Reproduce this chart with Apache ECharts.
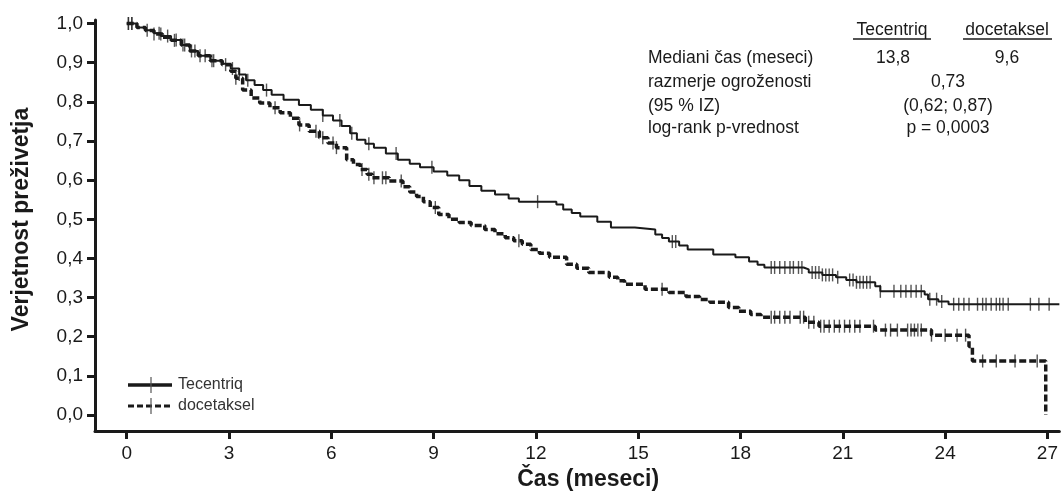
<!DOCTYPE html>
<html>
<head>
<meta charset="utf-8">
<script src="https://cdn.jsdelivr.net/npm/echarts@6/dist/echarts.min.js"></script>
<style>
  html, body { margin: 0; padding: 0; background: #fff; }
  #chart { width: 1061px; height: 496px; }
</style>
</head>
<body>
<div id="chart"></div>
<script>
// Kaplan-Meier step points (time in months, survival probability)
const tecTime = [0, 0.3, 0.55, 0.8, 1.0, 1.3, 1.6, 1.85, 2.1, 2.45, 2.8, 3.05, 3.3, 3.5, 3.75, 4.0, 4.25, 4.6, 5.05, 5.4, 5.75, 6.05, 6.3, 6.55, 6.75, 7.0, 7.25, 7.6, 7.95, 8.3, 8.6, 9.0, 9.4, 9.75, 10.05, 10.4, 10.8, 11.2, 11.5, 12.6, 12.8, 13.05, 13.3, 13.8, 14.2, 14.9, 15.5, 15.7, 15.9, 16.2, 16.45, 17.2, 17.85, 18.25, 18.5, 18.7, 19.85, 20.0, 20.4, 20.8, 21.1, 21.4, 21.95, 22.1, 23.4, 23.5, 23.8, 24.1, 27.35];
const tecSurv = [1.0, 0.99, 0.983, 0.975, 0.968, 0.958, 0.945, 0.93, 0.918, 0.905, 0.897, 0.885, 0.87, 0.855, 0.843, 0.83, 0.818, 0.805, 0.792, 0.78, 0.765, 0.752, 0.738, 0.72, 0.703, 0.693, 0.683, 0.668, 0.652, 0.642, 0.633, 0.622, 0.612, 0.6, 0.585, 0.573, 0.563, 0.553, 0.545, 0.538, 0.525, 0.516, 0.507, 0.494, 0.479, 0.474, 0.461, 0.452, 0.443, 0.433, 0.423, 0.41, 0.403, 0.392, 0.384, 0.377, 0.372, 0.364, 0.358, 0.352, 0.345, 0.339, 0.329, 0.316, 0.308, 0.296, 0.29, 0.283, 0.283];
const tecCensor = [0.05, 0.15, 0.6, 0.95, 1.2, 1.45, 1.65, 1.9, 2.15, 2.55, 3.1, 3.3, 3.55, 4.1, 5.75, 6.25, 6.6, 7.1, 7.9, 8.95, 12.05, 16.0, 16.1, 18.9, 19.0, 19.15, 19.3, 19.45, 19.55, 19.7, 19.8, 20.1, 20.2, 20.3, 20.4, 20.5, 20.6, 20.7, 20.85, 21.2, 21.3, 21.4, 21.5, 21.6, 21.7, 21.8, 22.1, 22.5, 22.7, 22.85, 23.0, 23.15, 23.3, 23.55, 23.75, 23.9, 24.25, 24.4, 24.55, 24.7, 24.95, 25.1, 25.2, 25.35, 25.5, 25.6, 25.7, 25.85, 26.5, 26.75, 27.05];

const docTime = [0, 0.3, 0.55, 0.8, 1.05, 1.3, 1.6, 1.85, 2.1, 2.45, 2.8, 3.05, 3.2, 3.4, 3.65, 3.9, 4.2, 4.5, 4.8, 5.05, 5.35, 5.65, 5.9, 6.15, 6.45, 6.65, 6.85, 7.05, 7.2, 7.7, 8.1, 8.3, 8.5, 8.7, 8.9, 9.15, 9.45, 9.75, 10.1, 10.5, 10.8, 11.1, 11.35, 11.6, 11.85, 12.1, 12.4, 12.9, 13.2, 13.55, 14.15, 14.4, 14.6, 15.2, 15.9, 16.4, 16.8, 17.1, 17.65, 17.95, 18.3, 18.6, 19.9, 20.3, 21.95, 23.6, 24.7, 24.8, 26.95];
const docSurv = [1.0, 0.99, 0.982, 0.973, 0.965, 0.957, 0.945, 0.93, 0.918, 0.905, 0.895, 0.878, 0.86, 0.83, 0.81, 0.797, 0.785, 0.772, 0.758, 0.741, 0.725, 0.708, 0.695, 0.683, 0.652, 0.64, 0.627, 0.615, 0.606, 0.598, 0.583, 0.57, 0.558, 0.545, 0.53, 0.512, 0.5, 0.492, 0.484, 0.474, 0.463, 0.453, 0.445, 0.436, 0.423, 0.413, 0.403, 0.385, 0.375, 0.364, 0.352, 0.343, 0.334, 0.321, 0.313, 0.303, 0.295, 0.288, 0.275, 0.265, 0.257, 0.25, 0.237, 0.227, 0.217, 0.204, 0.175, 0.138, 0.0];
const docCensor = [0.05, 0.15, 0.8, 1.0, 1.4, 1.7, 2.0, 2.3, 2.5, 2.9, 3.2, 4.35, 5.07, 5.55, 5.75, 6.05, 6.15, 6.9, 7.1, 7.25, 7.5, 7.6, 8.05, 9.05, 11.5, 15.7, 18.9, 19.0, 19.15, 19.3, 19.45, 19.75, 19.85, 20.0, 20.15, 20.35, 20.45, 20.6, 20.75, 20.9, 21.05, 21.2, 21.35, 21.5, 21.9, 22.25, 22.4, 22.6, 22.9, 23.0, 23.1, 23.2, 23.3, 23.6, 24.0, 24.35, 24.6, 25.1, 25.5, 26.05, 26.7];

const xTicks = [0, 3, 6, 9, 12, 15, 18, 21, 24, 27];
const yTicks = [0, 0.1, 0.2, 0.3, 0.4, 0.5, 0.6, 0.7, 0.8, 0.9, 1.0];

const zip = (a, b) => a.map((v, i) => [v, b[i]]);
// survival value of the step curve at time t (for placing censor marks)
const survAt = (times, surv, t) => {
    let s = surv[0];
    for (let i = 0; i < times.length; i++) {
        if (times[i] <= t) s = surv[i]; else break;
    }
    return s;
};

const ink = '#1a1a1a';
const font = 'Liberation Sans, Arial, sans-serif';
const tfont = '17.5px ' + font;
const myChart = echarts.init(document.getElementById('chart'));

const censorSeries = (times, surv, cens) => ({
    type: 'scatter',
    data: cens.map(t => [t, survAt(times, surv, t)]),
    symbol: 'rect',
    symbolSize: [1.4, 13],
    itemStyle: { color: '#2a2a2a' },
    silent: true,
    z: 3
});

const option = {
    animation: false,
    grid: { left: 95, right: 0, top: 20, bottom: 64 },
    xAxis: {
        type: 'value',
        min: -0.93,
        max: 27.35,
        name: 'Čas (meseci)',
        nameLocation: 'middle',
        nameGap: 36,
        nameTextStyle: { fontFamily: font, fontWeight: 'bold', fontSize: 23, color: ink, verticalAlign: 'top', padding: [0, 0, 0, 22] },
        axisLine: { onZero: false, lineStyle: { color: ink, width: 3 } },
        axisTick: { length: 8, lineStyle: { color: ink, width: 3 }, customValues: xTicks },
        axisLabel: { customValues: xTicks, fontFamily: font, fontSize: 19, color: ink, margin: 13 },
        splitLine: { show: false }
    },
    yAxis: {
        type: 'value',
        min: -0.041,
        max: 1.009,
        name: 'Verjetnost preživetja',
        nameLocation: 'middle',
        nameGap: 62,
        nameRotate: 90,
        nameTextStyle: { fontFamily: font, fontWeight: 'bold', fontSize: 23, color: ink, padding: [0, 0, 0, 12] },
        axisLine: { onZero: false, lineStyle: { color: ink, width: 3 } },
        axisTick: { length: 8, lineStyle: { color: ink, width: 3 }, customValues: yTicks },
        axisLabel: {
            customValues: yTicks,
            fontFamily: font, fontSize: 19, color: ink, margin: 12,
            formatter: v => v.toFixed(1).replace('.', ',')
        },
        splitLine: { show: false }
    },
    series: [
        {
            name: 'Tecentriq',
            type: 'line',
            step: 'end',
            showSymbol: false,
            data: zip(tecTime, tecSurv),
            lineStyle: { color: ink, width: 2 },
            z: 4
        },
        {
            name: 'docetaksel',
            type: 'line',
            step: 'end',
            showSymbol: false,
            data: zip(docTime, docSurv),
            lineStyle: { color: ink, width: 3.5, type: [7, 3] },
            z: 4
        },
        censorSeries(tecTime, tecSurv, tecCensor),
        censorSeries(docTime, docSurv, docCensor)
    ],
    graphic: [
        // legend
        { type: 'line', shape: { x1: 128, y1: 385, x2: 172, y2: 385 }, style: { stroke: ink, lineWidth: 3.5 } },
        { type: 'line', shape: { x1: 151, y1: 377, x2: 151, y2: 393 }, style: { stroke: '#555', lineWidth: 1.2 } },
        { type: 'text', x: 178, y: 385, style: { text: 'Tecentriq', font: '16px ' + font, fill: '#333', verticalAlign: 'middle' } },
        { type: 'line', shape: { x1: 128, y1: 406, x2: 172, y2: 406 }, style: { stroke: ink, lineWidth: 3, lineDash: [6, 3] } },
        { type: 'line', shape: { x1: 151, y1: 398, x2: 151, y2: 414 }, style: { stroke: '#555', lineWidth: 1.2 } },
        { type: 'text', x: 178, y: 406, style: { text: 'docetaksel', font: '16px ' + font, fill: '#333', verticalAlign: 'middle' } },
        // summary table
        { type: 'text', x: 892, y: 30, style: { text: 'Tecentriq', font: tfont, fill: ink, align: 'center', verticalAlign: 'middle' } },
        { type: 'line', shape: { x1: 853, y1: 39, x2: 931, y2: 39 }, style: { stroke: ink, lineWidth: 1.3 } },
        { type: 'text', x: 1007, y: 30, style: { text: 'docetaksel', font: tfont, fill: ink, align: 'center', verticalAlign: 'middle' } },
        { type: 'line', shape: { x1: 963, y1: 39, x2: 1052, y2: 39 }, style: { stroke: ink, lineWidth: 1.3 } },
        { type: 'text', x: 648, y: 58, style: { text: 'Mediani čas (meseci)', font: tfont, fill: ink, verticalAlign: 'middle' } },
        { type: 'text', x: 893, y: 58, style: { text: '13,8', font: tfont, fill: ink, align: 'center', verticalAlign: 'middle' } },
        { type: 'text', x: 1007, y: 58, style: { text: '9,6', font: tfont, fill: ink, align: 'center', verticalAlign: 'middle' } },
        { type: 'text', x: 648, y: 82, style: { text: 'razmerje ogroženosti', font: tfont, fill: ink, verticalAlign: 'middle' } },
        { type: 'text', x: 948, y: 82, style: { text: '0,73', font: tfont, fill: ink, align: 'center', verticalAlign: 'middle' } },
        { type: 'text', x: 648, y: 106, style: { text: '(95 % IZ)', font: tfont, fill: ink, verticalAlign: 'middle' } },
        { type: 'text', x: 948, y: 106, style: { text: '(0,62; 0,87)', font: tfont, fill: ink, align: 'center', verticalAlign: 'middle' } },
        { type: 'text', x: 648, y: 128, style: { text: 'log-rank p-vrednost', font: tfont, fill: ink, verticalAlign: 'middle' } },
        { type: 'text', x: 948, y: 128, style: { text: 'p = 0,0003', font: tfont, fill: ink, align: 'center', verticalAlign: 'middle' } }
    ]
};

myChart.setOption(option);
</script>
</body>
</html>
